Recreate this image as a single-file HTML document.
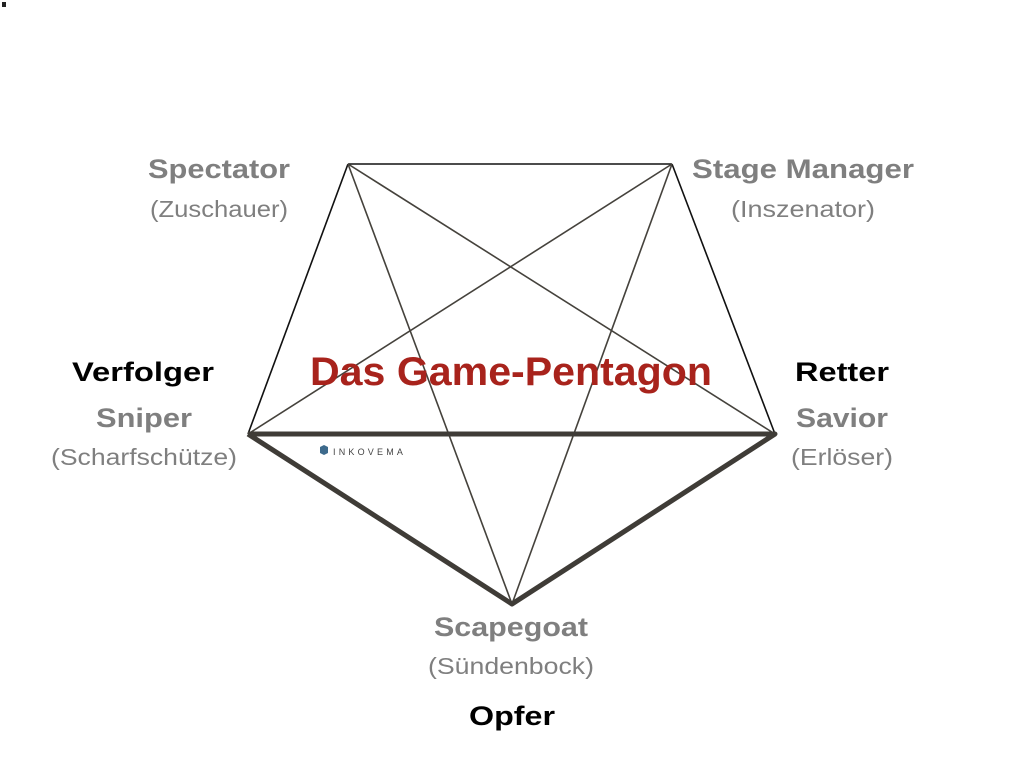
<!DOCTYPE html>
<html><head><meta charset="utf-8"><style>html,body{margin:0;padding:0;background:#fff}</style></head>
<body>
<svg width="1024" height="768" viewBox="0 0 1024 768" xmlns="http://www.w3.org/2000/svg" style="display:block">
<rect width="1024" height="768" fill="#fff"/>
<rect x="2" y="2" width="4" height="5" fill="#222"/>
<g stroke="#111" stroke-width="1.6" fill="none">
<line x1="348" y1="164" x2="672" y2="164"/>
<line x1="348" y1="164" x2="248" y2="434"/>
<line x1="672" y1="164" x2="775" y2="434"/>
</g>
<g stroke="#45423c" stroke-width="1.6" fill="none">
<line x1="348" y1="164" x2="775" y2="434"/>
<line x1="348" y1="164" x2="512" y2="604"/>
<line x1="672" y1="164" x2="248" y2="434"/>
<line x1="672" y1="164" x2="512" y2="604"/>
</g>
<g stroke="#3f3c37" stroke-width="5" fill="none" stroke-linejoin="round">
<polyline points="248,434 775,434 512,604 248,434"/>
</g>
<g font-family="Liberation Sans, sans-serif" text-anchor="middle">
<text x="219" y="178" font-size="27" font-weight="bold" fill="#7f7f7f" textLength="142" lengthAdjust="spacingAndGlyphs">Spectator</text>
<text x="219" y="217" font-size="23" fill="#7f7f7f" textLength="138" lengthAdjust="spacingAndGlyphs">(Zuschauer)</text>
<text x="803" y="178" font-size="27" font-weight="bold" fill="#7f7f7f" textLength="222" lengthAdjust="spacingAndGlyphs">Stage Manager</text>
<text x="803" y="217" font-size="23" fill="#7f7f7f" textLength="144" lengthAdjust="spacingAndGlyphs">(Inszenator)</text>
<text x="143" y="381" font-size="27" font-weight="bold" fill="#000" textLength="142" lengthAdjust="spacingAndGlyphs">Verfolger</text>
<text x="144" y="427" font-size="27" font-weight="bold" fill="#7f7f7f" textLength="96" lengthAdjust="spacingAndGlyphs">Sniper</text>
<text x="144" y="465" font-size="23" fill="#7f7f7f" textLength="186" lengthAdjust="spacingAndGlyphs">(Scharfschütze)</text>
<text x="842" y="381" font-size="27" font-weight="bold" fill="#000" textLength="94" lengthAdjust="spacingAndGlyphs">Retter</text>
<text x="842" y="427" font-size="27" font-weight="bold" fill="#7f7f7f" textLength="92" lengthAdjust="spacingAndGlyphs">Savior</text>
<text x="842" y="465" font-size="23" fill="#7f7f7f" textLength="102" lengthAdjust="spacingAndGlyphs">(Erlöser)</text>
<text x="511" y="636" font-size="27" font-weight="bold" fill="#7f7f7f" textLength="154" lengthAdjust="spacingAndGlyphs">Scapegoat</text>
<text x="511" y="674" font-size="23" fill="#7f7f7f" textLength="166" lengthAdjust="spacingAndGlyphs">(Sündenbock)</text>
<text x="512" y="725" font-size="27" font-weight="bold" fill="#000" textLength="86" lengthAdjust="spacingAndGlyphs">Opfer</text>
<text x="511" y="385" font-size="40" font-weight="bold" fill="#a8231c" textLength="402" lengthAdjust="spacingAndGlyphs">Das Game-Pentagon</text>
</g>
<polygon points="320,447 324,445 328,447 328,453 324,455 320,453" fill="#3d6a8c"/>
<text x="333" y="455" font-family="Liberation Sans, sans-serif" font-size="9" fill="#444" letter-spacing="3.2">INKOVEMA</text>
</svg>
</body></html>
